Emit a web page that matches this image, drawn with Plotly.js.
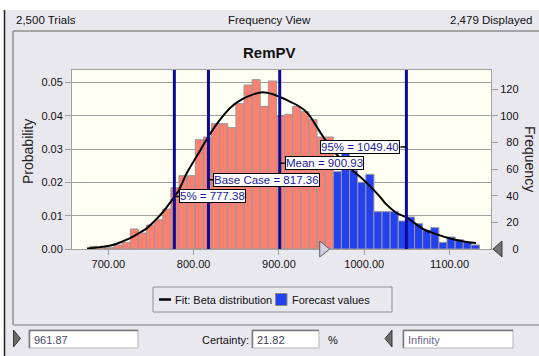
<!DOCTYPE html>
<html>
<head>
<meta charset="utf-8">
<script src="https://cdn.plot.ly/plotly-3.0.1.min.js"></script>
<style>
html,body{margin:0;padding:0;background:#fff;}
#chart{width:539px;height:356px;}
</style>
</head>
<body>
<div id="chart"></div>
<script>
// ---- data ----
const binCenters = [682.9, 692.4, 701.9, 711.5, 721.0, 730.5, 740.0, 749.5, 759.1, 768.6,
  778.1, 787.6, 797.1, 806.7, 816.2, 825.7, 835.2, 844.7, 854.3, 863.8,
  873.3, 882.8, 892.3, 901.9, 911.4, 920.9, 930.4, 939.9, 949.5, 959.0,
  968.5, 978.0, 987.5, 997.1, 1006.6, 1016.1, 1025.6, 1035.1, 1044.7, 1054.2,
  1063.7, 1073.2, 1082.7, 1092.3, 1101.8, 1111.3, 1120.8, 1130.3];
const frequencies = [2, 1, 1, 3, 5, 15, 12, 18, 22, 30,
  46, 55, 55, 82, 84, 94, 94, 91, 109, 123,
  127, 107, 126, 100, 101, 107, 103, 97, 84, 84,
  58, 72, 59, 50, 56, 28, 28, 28, 21, 24,
  19, 14, 16, 5, 9, 7, 5, 3];
const fitX = [675, 690, 705, 716, 725, 736, 745, 755, 765, 775, 783, 792, 805, 817, 831, 843, 856, 870, 881, 893,
  901, 910, 921, 930, 937, 944, 952, 962, 975, 987, 999, 1007, 1018, 1025, 1038, 1050, 1069, 1085, 1104, 1120, 1131];
const fitY = [0.4, 1.4, 3, 5.5, 8, 12, 15.5, 21.5, 28.5, 37, 44.5, 57, 71, 84, 97, 106, 112, 116, 117.5, 116,
  114, 111.5, 108, 104, 99, 92, 84, 75, 66, 58.5, 52, 47, 39.5, 34, 27, 23.5, 15, 11, 7.3, 5.2, 4.5];
const markerValues = [777.38, 817.36, 900.93, 1049.40];
const markerLabels = ['5% = 777.38', 'Base Case = 817.36', 'Mean = 900.93', '95% = 1049.40'];
const certaintyLow = 961.87;
const certaintyHigh = 'Infinity';
const certaintyPct = '21.82';
const trials = 2500;
const displayed = 2479;
const xTicks = [700, 800, 900, 1000, 1100];
const xTickLabels = ['700.00', '800.00', '900.00', '1000.00', '1100.00'];
const probTicks = [0, 0.01, 0.02, 0.03, 0.04, 0.05];
const probTickLabels = ['0.00', '0.01', '0.02', '0.03', '0.04', '0.05'];
const freqTicks = [0, 20, 40, 60, 80, 100, 120];
const freqTickLabels = ['0', '20', '40', '60', '80', '100', '120'];

// ---- styling / layout helpers ----
const FONT = '"Liberation Sans", Arial, sans-serif';
const BG = '#EAE8EF';
const RED = '#FA8072';
const BLUE = '#2341F0';
const NAVY = '#0A0A98';
const PL = 72, PR = 491, PT = 70, PB = 249;
const W = 539, H = 356;
const px = x => (x - PL) / (PR - PL);
const py = y => (PB - y) / (PB - PT);
const FS = '\u2007';
const padLeft = (s, n) => FS.repeat(Math.max(0, n - s.length)) + s;

const yTop = 0.0537;
const barWidth = binCenters[1] - binCenters[0];
const barColors = binCenters.map(c => c < certaintyLow ? RED : BLUE);

const traces = [
  {
    // carries the probability axis (same scale as the frequency axis)
    type: 'scatter', mode: 'markers', x: [binCenters[0]], y: [frequencies[0] / trials],
    marker: {opacity: 0}, showlegend: false, hoverinfo: 'skip'
  },
  {
    type: 'bar', x: binCenters, y: frequencies, yaxis: 'y2', width: barWidth,
    marker: {color: barColors, line: {color: '#989898', width: 1}},
    showlegend: false, hoverinfo: 'skip'
  },
  {
    type: 'scatter', mode: 'lines', x: fitX, y: fitY, yaxis: 'y2',
    line: {color: '#000', width: 2, shape: 'spline', smoothing: 0.9},
    showlegend: false, hoverinfo: 'skip'
  }
];

const shapes = [];
const annotations = [];
function rectPx(x0, y0, x1, y1, opts) {
  shapes.push(Object.assign({type: 'rect', xref: 'paper', yref: 'paper',
    x0: px(x0), x1: px(x1), y0: py(y0), y1: py(y1), layer: 'below'}, opts));
}
function linePx(x0, y0, x1, y1, color, width) {
  shapes.push({type: 'line', xref: 'paper', yref: 'paper', x0: px(x0), x1: px(x1),
    y0: py(y0), y1: py(y1), line: {color: color, width: width}, layer: 'below'});
}
function textPx(x, y, text, opts) {
  annotations.push(Object.assign({xref: 'paper', yref: 'paper', x: px(x), y: py(y), text: text,
    showarrow: false, xanchor: 'left', yanchor: 'middle',
    font: {family: FONT, size: 11.5, color: '#111'}}, opts));
}

// window frame
rectPx(0, -2, W + 2, 10, {fillcolor: '#fff', line: {width: 0}});
rectPx(-2, -2, 4.5, H + 2, {fillcolor: '#fff', line: {width: 0}});
linePx(4.5, 10, 4.5, H + 2, '#222', 1.5);
// inner sunken panel
linePx(13, 31, W + 2, 31, '#8E8E8E', 1.5);
linePx(13, 31, 13, 325, '#8E8E8E', 1.5);
linePx(13, 325, W + 2, 325, '#9C9C9C', 1.5);

// top strip
textPx(14, 20, trials.toLocaleString('en-US') + ' Trials');
textPx(269, 20, 'Frequency View', {xanchor: 'center'});
textPx(448, 20, displayed.toLocaleString('en-US') + ' Displayed');

// titles
textPx(269.5, 52, '<b>RemPV</b>', {xanchor: 'center', font: {family: FONT, size: 15, color: '#111'}});
textPx(28, 152, 'Probability', {xanchor: 'center', textangle: -90, font: {family: FONT, size: 14, color: '#222'}});
textPx(530, 159, 'Frequency', {xanchor: 'center', textangle: 90, font: {family: FONT, size: 14, color: '#222'}});

// legend
rectPx(153, 287, 392, 312, {fillcolor: 'rgba(0,0,0,0)', line: {color: '#8E8E8E', width: 1}});
linePx(159, 299.5, 171, 299.5, '#000', 2.5);
textPx(173, 299.5, 'Fit: Beta distribution', {font: {family: FONT, size: 11, color: '#111'}});
rectPx(275.5, 293.5, 287, 305.5, {fillcolor: BLUE, line: {color: '#8A8A8A', width: 1}, layer: 'above'});
textPx(290, 299.5, 'Forecast values', {font: {family: FONT, size: 11, color: '#111'}});

// bottom controls
function inputBox(x0, x1, text, color) {
  rectPx(x0, 330, x1, 348, {fillcolor: '#fff', line: {color: '#B4B4B4', width: 1}});
  linePx(x0, 330.5, x1, 330.5, '#7A7A7A', 1.5);
  linePx(x0 + 0.5, 330, x0 + 0.5, 348, '#7A7A7A', 1.5);
  textPx(x0 + 3, 339.5, text, {font: {family: FONT, size: 11, color: color}});
}
inputBox(29, 138, certaintyLow.toFixed(2), '#4A4A6A');
textPx(200, 339.5, 'Certainty:', {font: {family: FONT, size: 11, color: '#111'}});
inputBox(252, 319, certaintyPct, '#3A3A5A');
textPx(326, 339.5, '%', {font: {family: FONT, size: 11, color: '#111'}});
inputBox(403, 513, certaintyHigh, '#6A6A8A');
shapes.push({type: 'path', xref: 'paper', yref: 'paper', xsizemode: 'pixel', ysizemode: 'pixel',
  xanchor: px(13.5), yanchor: py(338.5), path: 'M 0 8.5 L 7 0 L 0 -8.5 Z',
  fillcolor: '#6A6A6A', line: {color: '#3A3A3A', width: 1}});
shapes.push({type: 'path', xref: 'paper', yref: 'paper', xsizemode: 'pixel', ysizemode: 'pixel',
  xanchor: px(392), yanchor: py(338.5), path: 'M 0 8.5 L 0 -8.5 L -7 0 Z',
  fillcolor: '#6A6A6A', line: {color: '#3A3A3A', width: 1}});

// percentile / base case lines and labels
const labelY = [39.4, 52, 64.3, 76.5];
markerValues.forEach((v, i) => {
  shapes.push({type: 'line', xref: 'x', yref: 'paper', x0: v, x1: v, y0: 0, y1: 1,
    line: {color: NAVY, width: 3}, layer: 'above'});
  const right = i === 3;
  annotations.push({xref: 'x', yref: 'y2', x: v, y: labelY[i], text: markerLabels[i],
    showarrow: true, arrowhead: 0, arrowwidth: 1.5, arrowcolor: '#000',
    axref: 'pixel', ayref: 'pixel', ax: right ? -6 : 5, ay: 0,
    xanchor: right ? 'right' : 'left', yanchor: 'middle',
    bgcolor: '#fff', bordercolor: '#000', borderwidth: 1, borderpad: 0,
    font: {family: FONT, size: 11.5, color: '#1A1AA0'}});
});

// certainty grabbers on the axis (yref paper so they are not clipped vertically)
shapes.push({type: 'path', xref: 'x', yref: 'paper', xsizemode: 'pixel', ysizemode: 'pixel',
  xanchor: certaintyLow, yanchor: 0, path: 'M -12 8 L -2 0 L -12 -8 Z',
  fillcolor: '#CFCFE0', line: {color: '#5A5A6A', width: 1}, layer: 'above'});
shapes.push({type: 'path', xref: 'paper', yref: 'paper', xsizemode: 'pixel', ysizemode: 'pixel',
  xanchor: 1, yanchor: 0, path: 'M 2 0 L 11 8 L 11 -8 Z',
  fillcolor: '#727272', line: {color: '#3A3A3A', width: 1}, layer: 'above'});

const layout = {
  width: W, height: H,
  margin: {l: PL, r: W - PR, t: PT, b: H - PB, pad: 0},
  paper_bgcolor: BG,
  plot_bgcolor: '#FFFFF4',
  font: {family: FONT, size: 11, color: '#111'},
  bargap: 0,
  showlegend: false,
  xaxis: {
    range: [657.4, 1148.6], tickmode: 'array', tickvals: xTicks, ticktext: xTickLabels,
    ticks: 'outside', ticklen: 5, tickcolor: '#A0A0A0', tickwidth: 1,
    showgrid: false, zeroline: false, showline: true, linecolor: '#A0A0A0', linewidth: 1, mirror: true,
    tickfont: {family: FONT, size: 11, color: '#111'}, fixedrange: true
  },
  yaxis: {
    range: [0, yTop], tickmode: 'array', tickvals: probTicks, ticktext: probTickLabels,
    ticks: 'outside', ticklen: 6, tickcolor: '#A0A0A0', tickwidth: 1,
    showgrid: true, gridcolor: '#A0A0A0', gridwidth: 1, zeroline: false,
    showline: true, linecolor: '#A0A0A0', linewidth: 1, mirror: true,
    tickfont: {family: FONT, size: 11, color: '#111'}, fixedrange: true
  },
  yaxis2: {
    overlaying: 'y', side: 'right', range: [0, yTop * trials],
    tickmode: 'array', tickvals: freqTicks, ticktext: freqTickLabels.map(s => padLeft(s, 3)),
    ticks: 'outside', ticklen: 6, tickcolor: '#A0A0A0', tickwidth: 1,
    showgrid: false, zeroline: false, showline: false,
    tickfont: {family: FONT, size: 11, color: '#111'}, fixedrange: true
  },
  shapes: shapes,
  annotations: annotations
};

Plotly.newPlot('chart', traces, layout, {displayModeBar: false, staticPlot: true});
</script>
</body>
</html>
